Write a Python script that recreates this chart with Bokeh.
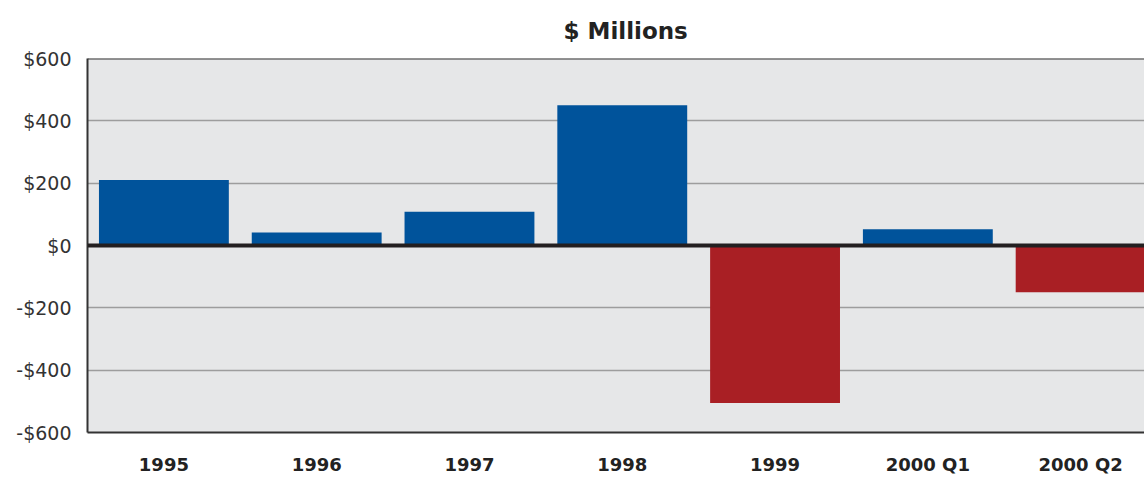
from bokeh.plotting import figure
from bokeh.models import FixedTicker, Span, Title
from bokeh.embed import file_html
from bokeh.resources import INLINE

# ---- data ----
categories = ["1995", "1996", "1997", "1998", "1999", "2000 Q1", "2000 Q2"]
values = [210, 42, 108, 450, -505, 52, -150]
y_ticks = [-600, -400, -200, 0, 200, 400, 600]
y_tick_labels = ["-$600", "-$400", "-$200", "$0", "$200", "$400", "$600"]
title_text = "$ Millions"

BLUE = "#00539b"
RED = "#a91f24"

xs = [i + 0.5 for i in range(len(categories))]
colors = [BLUE if v >= 0 else RED for v in values]

p = figure(width=1144, height=477, output_backend="svg", toolbar_location=None,
           x_range=(0, 6.918), y_range=(-600, 600),
           min_border_left=87, min_border_right=0, min_border_top=58, min_border_bottom=44)

p.background_fill_color = "#e6e7e8"
p.border_fill_color = "white"
p.outline_line_color = None

p.vbar(x=xs, top=values, bottom=0, width=0.85, color=colors, line_color=None)

# grid
p.xgrid.grid_line_color = None
p.ygrid.ticker = FixedTicker(ticks=[-400, -200, 200, 400])
p.ygrid.grid_line_color = "#9d9d9d"
p.ygrid.grid_line_width = 1.5

# zero line and top border
p.add_layout(Span(location=0, dimension="width", line_color="#231f20", line_width=4))
p.add_layout(Span(location=600, dimension="width", line_color="#333333", line_width=2))

# y axis
ya = p.yaxis[0]
ya.ticker = FixedTicker(ticks=y_ticks)
ya.major_label_overrides = {t: l for t, l in zip(y_ticks, y_tick_labels)}
ya.major_tick_in = 0
ya.major_tick_out = 0
ya.minor_tick_in = 0
ya.minor_tick_out = 0
ya.axis_line_color = "#333333"
ya.axis_line_width = 2
ya.major_label_standoff = 16
ya.major_label_text_font = "DejaVu Sans"
ya.major_label_text_font_size = "19px"
ya.major_label_text_color = "#333333"

# x axis
xa = p.xaxis[0]
xa.ticker = FixedTicker(ticks=xs)
xa.major_label_overrides = {x: c for x, c in zip(xs, categories)}
xa.major_tick_in = 0
xa.major_tick_out = 0
xa.minor_tick_in = 0
xa.minor_tick_out = 0
xa.axis_line_color = "#333333"
xa.axis_line_width = 2
xa.major_label_standoff = 21
xa.major_label_text_font = "DejaVu Sans"
xa.major_label_text_font_style = "bold"
xa.major_label_text_font_size = "18px"
xa.major_label_text_color = "#222222"

t = Title(text=title_text, align="left", offset=476, standoff=29,
          text_font="DejaVu Sans", text_font_style="bold", text_font_size="23px",
          text_color="#222222")
p.add_layout(t, "above")

open("out.html", "w").write(file_html(p, INLINE))
